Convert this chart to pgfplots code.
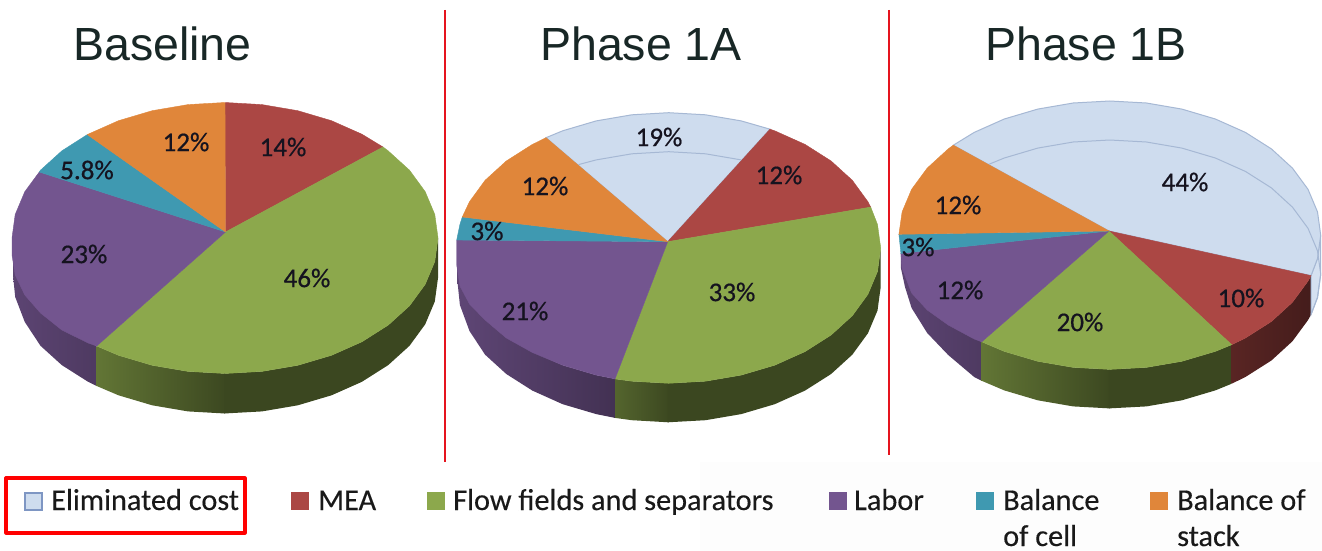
\documentclass[border=0pt]{standalone}
\usepackage{pgfplots}
\pgfplotsset{compat=1.18}
\usepackage{fontspec}
\setmainfont{Carlito}
\newfontfamily\titlefont{Liberation Sans}
\newfontfamily\pctfont[FakeBold=0.6]{Carlito}
\newfontfamily\legfont[FakeBold=0.3]{Carlito}
\definecolor{elim}{HTML}{CEDCEE}
\definecolor{elimline}{HTML}{A6B8D4}
\definecolor{elimkey}{HTML}{7E96C3}
\definecolor{mea}{HTML}{AB4744}
\definecolor{flow}{HTML}{8CA84C}
\definecolor{labor}{HTML}{73558F}
\definecolor{cell}{HTML}{3F99B1}
\definecolor{stack}{HTML}{E0863A}
\definecolor{titletext}{HTML}{182726}
\definecolor{labeltext}{HTML}{15131F}
\definecolor{redline}{HTML}{E5141E}
% one flat slice
\newcommand{\slice}[2]{\addplot[fill=#1,draw=#1,line width=0.4pt] coordinates {#2} --cycle;}
% rim piece with a horizontal shading
\newcommand{\rim}[3]{\addplot[left color=#1,right color=#2,draw=none] coordinates {#3} --cycle;}
\newcommand{\pct}[2]{\node[font=\pctfont\fontsize{27}{30}\selectfont,text=labeltext,inner sep=0] at (axis cs:#1) {#2};}
\newcommand{\ttl}[2]{\node[font=\titlefont\fontsize{46.5}{50}\selectfont,text=titletext,anchor=base west,inner sep=0] at (axis cs:#1) {#2};}
\newcommand{\leg}[2]{\node[font=\legfont\fontsize{30.3}{32}\selectfont,text=black!90,anchor=base west,inner sep=0] at (axis cs:#1) {#2};}
\newcommand{\swatch}[3]{\addplot[fill=#1,draw=#2,line width=1.4pt] coordinates {#3} --cycle;}
\begin{document}
\begin{tikzpicture}
\begin{axis}[
    width=1322pt, height=551pt, scale only axis,
    xmin=0, xmax=1322, ymin=0, ymax=551, y dir=reverse,
    hide axis, no markers
]
% page
\addplot[fill=white,draw=none] coordinates {(0,0) (1322,0) (1322,551) (0,551)} --cycle;
\addplot[fill=black!0.7,draw=none] coordinates {(700,462) (1322,462) (1322,551) (700,551)} --cycle;

% ---- Baseline rim
\rim{labor!80!black}{labor!68!black}{(96.7,346) (88.1,341.8) (61.8,325.1) (40.5,305.8) (24.8,284.3) (15.2,261.5) (13,255) (13,275) (15.2,297) (24.8,322) (40.5,345.8) (61.8,365.1) (88.1,381.8) (96.7,386)}
\rim{flow!70!black}{flow!43!black}{(96.7,346) (118.5,355.3) (152.2,365.3) (188,371.4) (225,373.5) (225,413.5) (188,411.4) (152.2,405.3) (118.5,395.3) (96.7,386)}
\addplot[fill=flow!42!black,draw=none] coordinates {(224,373.5) (262,371.4) (297.8,365.3) (331.5,355.3) (361.9,341.8) (388.2,325.1) (409.5,305.8) (425.2,284.3) (434.8,261.5) (438,238) (438,278) (434.8,301.5) (425.2,324.3) (409.5,345.8) (388.2,365.1) (361.9,381.8) (331.5,395.3) (297.8,405.3) (262,411.4) (224,413.5)} --cycle;
% ---- Baseline top
\slice{mea}{(225.5,232) (225,102.5) (262,104.6) (297.8,110.7) (331.5,120.7) (361.9,134.2) (383,147)}
\slice{flow}{(225.5,232) (383,147) (388.2,150.9) (409.5,170.2) (425.2,191.7) (434.8,214.5) (438,238) (434.8,261.5) (425.2,284.3) (409.5,305.8) (388.2,325.1) (361.9,341.8) (331.5,355.3) (297.8,365.3) (262,371.4) (225,373.5) (188,371.4) (152.2,365.3) (118.5,355.3) (96.7,346)}
\slice{labor}{(225.5,232) (96.7,346) (88.1,343) (61.8,330) (40.5,313) (24.8,295) (15.2,275) (12,255) (12,238) (15.2,214.5) (24.8,191.7) (39.3,172)}
\slice{cell}{(225.5,232) (39.3,172) (40.5,170.2) (61.8,150.9) (87.3,134.6)}
\slice{stack}{(225.5,232) (87.3,134.6) (88.1,134.2) (118.5,120.7) (152.2,110.7) (188,104.6) (225,102.5)}

% ---- Phase 1A rim
\rim{labor!82!black}{labor!58!black}{(615,378.9) (596.2,375.1) (562.7,365.2) (532.4,351.6) (506.3,335) (485.1,315.7) (469.5,294.3) (459.9,271.5) (457.5,262) (457.5,282) (459.9,305) (469.5,331) (485.1,354.7) (506.3,374) (532.4,390.6) (562.7,404.2) (596.2,414.1) (615,417.9)}
\rim{flow!60!black}{flow!43!black}{(615,378.9) (631.9,381.2) (668.7,383.3) (668.7,422.3) (631.9,420.2) (615,417.9)}
\addplot[fill=flow!42!black,draw=none] coordinates {(667.7,383.3) (705.5,381.2) (741.2,375.1) (774.7,365.2) (805,351.6) (831.1,335) (852.3,315.7) (867.9,294.3) (877.5,271.5) (880.7,248) (880.7,287) (877.5,310.5) (867.9,333.3) (852.3,354.7) (831.1,374) (805,390.6) (774.7,404.2) (741.2,414.1) (705.5,420.2) (667.7,422.3)} --cycle;
% ---- Phase 1A top
\addplot[fill=elim,draw=elimline,line width=1pt] coordinates {(667.7,241.7) (546,137.7) (562.7,130.8) (596.2,120.9) (631.9,114.8) (668.7,112.7) (705.5,114.8) (741.2,120.9) (770,129.2)} --cycle;
\addplot[draw=elimline,line width=1pt] coordinates {(578.5,164.6) (596.2,159.9) (631.9,153.8) (668.7,151.7) (705.5,153.8) (741.2,159.9)};
\slice{mea}{(667.7,241.7) (770,129.2) (774.7,130.8) (805,144.4) (831.1,161) (852.3,180.3) (867.9,201.7) (870.7,207.1)}
\slice{flow}{(667.7,241.7) (870.7,207.1) (877.5,224.5) (880.7,248) (877.5,271.5) (867.9,294.3) (852.3,315.7) (831.1,335) (805,351.6) (774.7,365.2) (741.2,375.1) (705.5,381.2) (668.7,383.3) (631.9,381.2) (615,378.9)}
\slice{labor}{(667.7,241.7) (615,378.9) (596.2,375.1) (562.7,365.2) (532.4,352.5) (506.3,338) (485.1,320) (469.5,304) (459.9,286) (456.7,265) (456.7,240)}
\slice{cell}{(667.7,241.7) (456.7,240) (459.9,224.5) (462.3,217)}
\slice{stack}{(667.7,241.7) (462.3,217) (469.5,201.7) (485.1,180.3) (506.3,161) (532.4,144.4) (546,137.7)}

% ---- Phase 1B rim
\rim{labor!80!black}{labor!68!black}{(981.7,341.8) (974.2,338) (948.2,321.5) (927.2,302.3) (911.6,281.1) (900.9,253.4) (900.9,268) (905,287) (911.6,308) (927.2,333) (948.2,355) (974.2,377) (981.7,380.8)}
\rim{flow!70!black}{flow!43!black}{(981.7,341.8) (1004.3,351.4) (1037.7,361.3) (1073.2,367.4) (1109.8,369.4) (1109.8,408.4) (1073.2,406.4) (1037.7,400.3) (1004.3,390.4) (981.7,380.8)}
\addplot[fill=flow!42!black,draw=none] coordinates {(1108.8,369.4) (1146.4,367.4) (1181.9,361.3) (1215.3,351.4) (1231.7,344.7) (1231.7,383.7) (1215.3,390.4) (1181.9,400.3) (1146.4,406.4) (1108.8,408.4)} --cycle;
\rim{mea!52!black}{mea!40!black}{(1231.7,344.7) (1245.4,338) (1271.4,321.5) (1292.4,302.3) (1308,281.1) (1311,275.6) (1311,314.6) (1308,320.1) (1292.4,341.3) (1271.4,360.5) (1245.4,377) (1231.7,383.7)}
% ---- Phase 1B top, with the see-through rim of the eliminated slice
\addplot[fill=elim!85!white,draw=elimline,line width=1pt] coordinates {(1311,275.6) (1317.5,258.5) (1320.7,235.2) (1320.7,274.2) (1317.5,297.5) (1311,314.6)} --cycle;
\addplot[fill=elim,draw=elimline,line width=1pt] coordinates {(1109,231) (953.3,145.2) (974.2,132.4) (1004.3,119) (1037.7,109.1) (1073.2,103) (1109.8,101) (1146.4,103) (1181.9,109.1) (1215.3,119) (1245.4,132.4) (1271.4,148.9) (1292.4,168.1) (1308,189.3) (1317.5,211.9) (1320.7,235.2) (1317.5,258.5) (1311,275.6)} --cycle;
\addplot[draw=elimline,line width=1pt] coordinates {(986.7,165.2) (1004.3,158) (1037.7,148.1) (1073.2,142) (1109.8,140) (1146.4,142) (1181.9,148.1) (1215.3,158) (1245.4,171.4) (1271.4,187.9) (1292.4,207.1) (1308,228.3) (1317.5,250.9) (1320.7,274.2) (1317.5,297.5) (1311,314.6)};
\slice{mea}{(1109,231) (1311,275.6) (1308,281.1) (1292.4,302.3) (1271.4,321.5) (1245.4,338) (1231.7,344.7)}
\slice{flow}{(1109,231) (1231.7,344.7) (1215.3,351.4) (1181.9,361.3) (1146.4,367.4) (1109.8,369.4) (1073.2,367.4) (1037.7,361.3) (1004.3,351.4) (981.7,341.8)}
\slice{labor}{(1109,231) (981.7,341.8) (974.2,339) (948.2,325) (927.2,310) (911.6,293) (902,268) (900.9,253.4)}
\slice{cell}{(1109,231) (900.9,253.4) (898.9,234.3)}
\slice{stack}{(1109,231) (898.9,234.3) (902.1,211.9) (911.6,189.3) (927.2,168.1) (948.2,148.9) (953.3,145.2)}

% dividers and the red box
\addplot[draw=redline,line width=1.7pt] coordinates {(445,10) (445,462)};
\addplot[draw=redline,line width=1.5pt] coordinates {(889,10) (889,455)};
\addplot[draw=red,line width=3.2pt,line join=round] coordinates {(6,478) (245,478) (245,533) (6,533)} --cycle;

% legend keys
\swatch{elim}{elimkey}{(25,493) (42,493) (42,510) (25,510)}
\swatch{mea}{mea}{(292,493) (308,493) (308,509) (292,509)}
\swatch{flow}{flow}{(428,493) (444,493) (444,509) (428,509)}
\swatch{labor}{labor}{(830,493) (846,493) (846,509) (830,509)}
\swatch{cell}{cell}{(977,493) (993,493) (993,509) (977,509)}
\swatch{stack}{stack}{(1151,493) (1167,493) (1167,509) (1151,509)}

% titles
\ttl{73,61}{Baseline}
\ttl{540,61}{Phase 1A}
\ttl{985,61}{Phase 1B}

% percentages
\pct{283,147}{14\%}
\pct{186,142}{12\%}
\pct{87,170}{5.8\%}
\pct{84,254}{23\%}
\pct{307,278}{46\%}
\pct{659,137}{19\%}
\pct{779,175}{12\%}
\pct{545,186}{12\%}
\pct{487,231}{3\%}
\pct{525,311}{21\%}
\pct{732,292}{33\%}
\pct{1185,182}{44\%}
\pct{958,205}{12\%}
\pct{918,247}{3\%}
\pct{960,290}{12\%}
\pct{1080,322}{20\%}
\pct{1241,298}{10\%}

% legend text
\leg{51,510}{Eliminated cost}
\leg{318,510}{MEA}
\leg{453,510}{Flow fields and separators}
\leg{854,510}{Labor}
\leg{1003,510}{Balance}
\leg{1003,546}{of cell}
\leg{1177,510}{Balance of}
\leg{1177,546}{stack}
\end{axis}
\end{tikzpicture}
\end{document}
